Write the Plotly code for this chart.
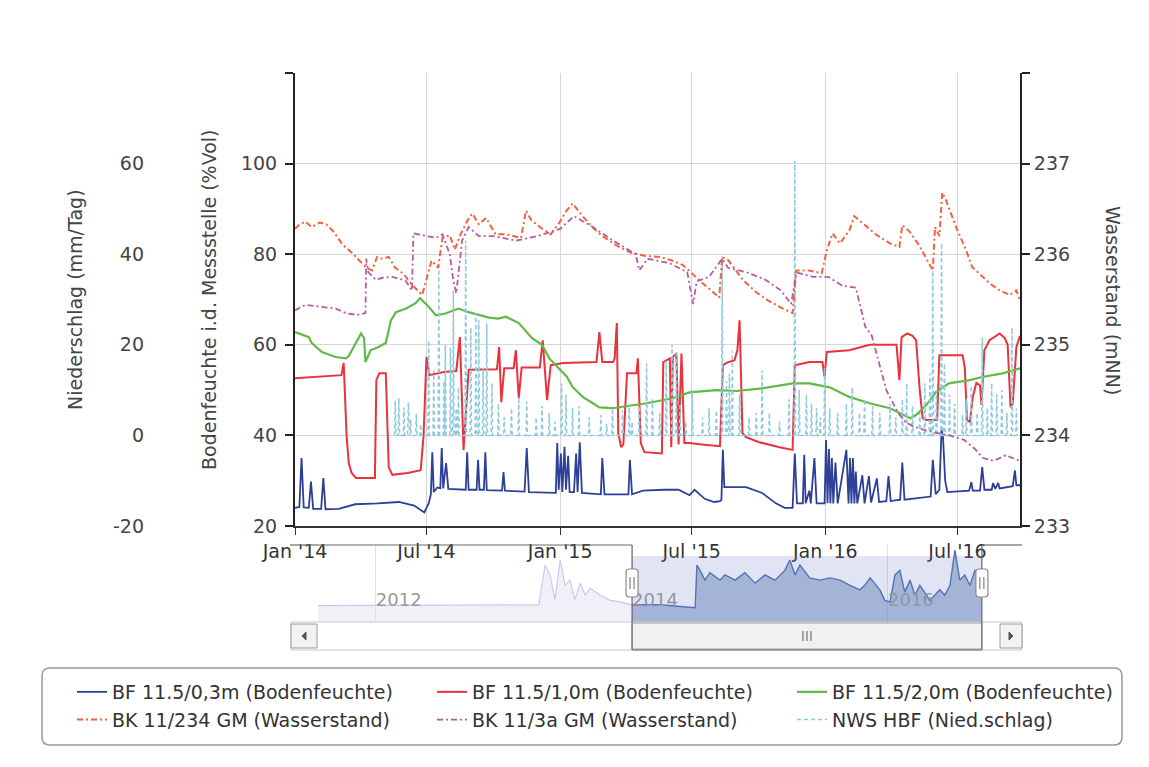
import pandas as pd
import plotly.graph_objects as go

# ---------------- data ----------------
bf03 = [  # BF 11.5/0,3m (Bodenfeuchte), %Vol
    ("2014-01-01", 24.0), ("2014-01-07", 24.2), ("2014-01-10", 35.0), ("2014-01-13", 24.1),
    ("2014-01-20", 24.0), ("2014-01-23", 29.8), ("2014-01-26", 23.8), ("2014-02-06", 23.8),
    ("2014-02-09", 30.6), ("2014-02-12", 23.7), ("2014-03-02", 23.8), ("2014-03-25", 24.8),
    ("2014-04-25", 25.0), ("2014-05-24", 25.3), ("2014-06-14", 24.5), ("2014-06-28", 23.0),
    ("2014-07-04", 25.0), ("2014-07-07", 27.0), ("2014-07-09", 36.3), ("2014-07-11", 27.5),
    ("2014-07-16", 28.5), ("2014-07-20", 28.3), ("2014-07-22", 37.2), ("2014-07-24", 28.3),
    ("2014-07-28", 33.9), ("2014-07-31", 28.2), ("2014-08-24", 28.0), ("2014-08-26", 36.3),
    ("2014-08-28", 28.0), ("2014-09-08", 28.0), ("2014-09-10", 34.6), ("2014-09-12", 28.0),
    ("2014-09-18", 28.0), ("2014-09-20", 36.3), ("2014-09-22", 27.9), ("2014-10-13", 27.8),
    ("2014-10-15", 31.9), ("2014-10-17", 27.8), ("2014-11-13", 27.6), ("2014-11-16", 37.2),
    ("2014-11-19", 27.5), ("2014-12-26", 27.3), ("2014-12-28", 38.3), ("2014-12-30", 28.0),
    ("2015-01-02", 36.0), ("2015-01-04", 27.5), ("2015-01-07", 37.5), ("2015-01-09", 28.0),
    ("2015-01-12", 35.5), ("2015-01-14", 27.5), ("2015-01-20", 27.5), ("2015-01-23", 36.0),
    ("2015-01-25", 27.5), ("2015-01-28", 38.5), ("2015-01-31", 27.3), ("2015-02-26", 27.0),
    ("2015-02-28", 35.0), ("2015-03-03", 27.0), ("2015-04-05", 27.0), ("2015-04-07", 34.6),
    ("2015-04-10", 27.0), ("2015-04-25", 27.8), ("2015-05-23", 28.0), ("2015-06-13", 28.0),
    ("2015-06-28", 26.8), ("2015-07-05", 28.0), ("2015-07-19", 26.0), ("2015-08-01", 25.3),
    ("2015-08-09", 25.5), ("2015-08-11", 25.8), ("2015-08-13", 36.8), ("2015-08-15", 28.6),
    ("2015-09-14", 28.6), ("2015-10-06", 27.3), ("2015-10-25", 25.0), ("2015-11-06", 24.0),
    ("2015-11-17", 24.0), ("2015-11-20", 36.0), ("2015-11-23", 25.0), ("2015-12-01", 25.0),
    ("2015-12-03", 35.7), ("2015-12-05", 25.0), ("2015-12-10", 27.8), ("2015-12-12", 25.0),
    ("2015-12-17", 35.0), ("2015-12-20", 25.0), ("2015-12-31", 25.0), ("2016-01-02", 39.0),
    ("2016-01-04", 25.0), ("2016-01-06", 37.0), ("2016-01-08", 25.0), ("2016-01-10", 35.0),
    ("2016-01-12", 25.0), ("2016-01-15", 34.0), ("2016-01-18", 25.0), ("2016-01-30", 36.8),
    ("2016-02-02", 25.0), ("2016-02-04", 35.0), ("2016-02-06", 25.0), ("2016-02-08", 35.0),
    ("2016-02-10", 25.0), ("2016-02-12", 32.0), ("2016-02-14", 25.0), ("2016-02-21", 31.2),
    ("2016-02-24", 25.0), ("2016-03-01", 31.0), ("2016-03-04", 25.2), ("2016-03-12", 30.5),
    ("2016-03-15", 25.3), ("2016-03-25", 25.5), ("2016-03-28", 31.0), ("2016-03-31", 25.5),
    ("2016-04-13", 25.8), ("2016-04-16", 34.0), ("2016-04-19", 25.8), ("2016-05-18", 26.4),
    ("2016-05-25", 26.5), ("2016-05-28", 34.6), ("2016-06-01", 27.0), ("2016-06-06", 28.0),
    ("2016-06-09", 41.2), ("2016-06-11", 39.6), ("2016-06-14", 30.0), ("2016-06-17", 27.5),
    ("2016-07-17", 27.8), ("2016-07-20", 29.7), ("2016-07-22", 27.8), ("2016-08-01", 27.8),
    ("2016-08-04", 33.0), ("2016-08-07", 28.0), ("2016-08-17", 28.0), ("2016-08-19", 29.5),
    ("2016-08-22", 28.2), ("2016-08-26", 29.5), ("2016-08-28", 28.3), ("2016-09-15", 28.8),
    ("2016-09-18", 32.3), ("2016-09-20", 29.0), ("2016-09-25", 29.0),
]

bf10 = [  # BF 11.5/1,0m (Bodenfeuchte), %Vol
    ("2014-01-01", 52.6), ("2014-01-20", 52.8), ("2014-02-10", 53.0), ("2014-03-06", 53.3),
    ("2014-03-09", 56.0), ("2014-03-13", 40.0), ("2014-03-16", 33.9), ("2014-03-20", 31.7),
    ("2014-03-26", 30.6), ("2014-04-21", 30.6), ("2014-04-23", 52.2), ("2014-04-27", 53.7),
    ("2014-05-06", 53.7), ("2014-05-10", 33.0), ("2014-05-15", 31.3), ("2014-06-05", 31.7),
    ("2014-06-23", 32.3), ("2014-06-27", 40.0), ("2014-07-01", 57.3), ("2014-07-05", 53.3),
    ("2014-07-25", 54.0), ("2014-08-11", 54.2), ("2014-08-16", 61.7), ("2014-08-21", 36.8),
    ("2014-08-28", 54.5), ("2014-10-06", 54.6), ("2014-10-09", 59.5), ("2014-10-12", 47.3),
    ("2014-10-16", 54.8), ("2014-10-29", 54.8), ("2014-11-01", 58.8), ("2014-11-05", 48.2),
    ("2014-11-09", 55.0), ("2014-12-04", 55.0), ("2014-12-08", 61.0), ("2014-12-14", 47.8),
    ("2014-12-19", 55.5), ("2015-01-05", 56.0), ("2015-02-20", 56.2), ("2015-02-24", 62.8),
    ("2015-02-28", 56.2), ("2015-03-15", 56.2), ("2015-03-17", 57.0), ("2015-03-20", 64.8),
    ("2015-03-22", 40.5), ("2015-03-26", 37.4), ("2015-03-29", 38.0), ("2015-04-03", 53.7),
    ("2015-04-16", 53.7), ("2015-04-18", 57.0), ("2015-04-22", 38.3), ("2015-04-27", 36.3),
    ("2015-05-21", 36.0), ("2015-05-23", 56.2), ("2015-06-01", 57.0), ("2015-06-03", 37.4),
    ("2015-06-05", 57.3), ("2015-06-10", 58.0), ("2015-06-13", 38.0), ("2015-06-17", 58.1),
    ("2015-06-21", 38.3), ("2015-06-28", 38.3), ("2015-07-15", 38.0), ("2015-08-09", 37.6),
    ("2015-08-13", 55.5), ("2015-08-18", 56.0), ("2015-08-29", 56.6), ("2015-09-02", 58.8),
    ("2015-09-05", 65.4), ("2015-09-09", 40.5), ("2015-09-14", 39.6), ("2015-10-02", 38.5),
    ("2015-10-30", 37.4), ("2015-11-17", 36.8), ("2015-11-20", 55.5), ("2015-12-10", 56.2),
    ("2015-12-28", 56.2), ("2015-12-31", 53.0), ("2016-01-03", 58.4), ("2016-02-03", 58.8),
    ("2016-03-02", 60.0), ("2016-04-08", 60.0), ("2016-04-12", 52.2), ("2016-04-15", 61.7),
    ("2016-04-23", 62.5), ("2016-04-30", 62.0), ("2016-05-05", 61.0), ("2016-05-10", 50.0),
    ("2016-05-14", 43.8), ("2016-05-19", 43.4), ("2016-06-03", 43.4), ("2016-06-06", 57.7),
    ("2016-07-08", 57.7), ("2016-07-11", 55.0), ("2016-07-14", 43.4), ("2016-07-18", 43.0),
    ("2016-07-22", 48.5), ("2016-07-27", 51.6), ("2016-08-01", 51.0), ("2016-08-03", 46.7),
    ("2016-08-07", 58.8), ("2016-08-14", 61.0), ("2016-08-28", 62.5), ("2016-09-04", 61.5),
    ("2016-09-08", 60.0), ("2016-09-12", 46.2), ("2016-09-15", 47.0), ("2016-09-20", 59.5),
    ("2016-09-25", 62.0),
]

bf20 = [  # BF 11.5/2,0m (Bodenfeuchte), %Vol
    ("2014-01-01", 62.8), ("2014-01-20", 61.7), ("2014-01-24", 60.4), ("2014-02-07", 58.4),
    ("2014-02-26", 57.3), ("2014-03-12", 57.0), ("2014-03-16", 57.5), ("2014-03-26", 60.6),
    ("2014-04-02", 62.5), ("2014-04-06", 61.5), ("2014-04-08", 56.2), ("2014-04-15", 58.8),
    ("2014-04-26", 59.5), ("2014-05-06", 60.4), ("2014-05-13", 65.4), ("2014-05-20", 67.2),
    ("2014-06-03", 68.0), ("2014-06-16", 69.2), ("2014-06-22", 70.3), ("2014-07-04", 68.4),
    ("2014-07-14", 66.5), ("2014-07-27", 66.9), ("2014-08-14", 68.0), ("2014-08-28", 67.2),
    ("2014-09-25", 66.0), ("2014-10-08", 65.8), ("2014-10-18", 66.2), ("2014-11-05", 64.8),
    ("2014-11-14", 63.2), ("2014-11-23", 61.5), ("2014-12-07", 60.0), ("2014-12-17", 57.0),
    ("2014-12-27", 55.3), ("2015-01-10", 53.0), ("2015-01-18", 50.7), ("2015-02-01", 48.5),
    ("2015-02-15", 47.1), ("2015-02-24", 46.2), ("2015-03-14", 46.0), ("2015-04-10", 46.7),
    ("2015-04-30", 47.1), ("2015-06-05", 48.2), ("2015-06-28", 49.5), ("2015-08-04", 50.0),
    ("2015-09-01", 49.8), ("2015-10-06", 50.4), ("2015-10-30", 51.0), ("2015-11-17", 51.5),
    ("2015-12-10", 51.5), ("2016-01-07", 50.6), ("2016-02-03", 48.5), ("2016-03-02", 47.1),
    ("2016-03-30", 46.0), ("2016-04-17", 44.5), ("2016-04-27", 43.8), ("2016-05-05", 44.5),
    ("2016-05-19", 46.7), ("2016-06-01", 49.5), ("2016-06-19", 51.5), ("2016-07-18", 52.2),
    ("2016-08-04", 52.9), ("2016-09-01", 53.7), ("2016-09-25", 54.8),
]

bk234 = [  # BK 11/234 GM (Wasserstand), mNN
    ("2014-01-01", 236.28), ("2014-01-06", 236.32), ("2014-01-15", 236.36), ("2014-01-24", 236.30),
    ("2014-02-04", 236.35), ("2014-02-13", 236.33), ("2014-02-23", 236.25), ("2014-03-08", 236.10),
    ("2014-03-20", 236.02), ("2014-03-30", 235.93), ("2014-04-09", 235.85), ("2014-04-17", 235.82),
    ("2014-04-24", 235.97), ("2014-05-01", 235.95), ("2014-05-10", 235.97), ("2014-05-19", 235.85),
    ("2014-05-31", 235.78), ("2014-06-09", 235.68), ("2014-06-21", 235.58), ("2014-06-25", 235.55),
    ("2014-07-02", 235.75), ("2014-07-08", 235.93), ("2014-07-17", 235.85), ("2014-07-23", 236.18),
    ("2014-08-02", 236.21), ("2014-08-09", 236.05), ("2014-08-17", 236.22), ("2014-08-27", 236.38),
    ("2014-09-02", 236.45), ("2014-09-11", 236.33), ("2014-09-21", 236.40), ("2014-10-04", 236.22),
    ("2014-10-18", 236.22), ("2014-11-08", 236.18), ("2014-11-12", 236.35), ("2014-11-15", 236.48),
    ("2014-11-22", 236.38), ("2014-12-04", 236.30), ("2014-12-19", 236.22), ("2014-12-31", 236.35),
    ("2015-01-08", 236.46), ("2015-01-18", 236.56), ("2015-02-01", 236.42), ("2015-02-14", 236.30),
    ("2015-02-28", 236.20), ("2015-03-19", 236.10), ("2015-04-07", 236.02), ("2015-04-29", 235.98),
    ("2015-05-19", 235.97), ("2015-06-04", 235.93), ("2015-06-19", 235.88), ("2015-07-06", 235.75),
    ("2015-07-16", 235.68), ("2015-07-28", 235.60), ("2015-08-08", 235.52), ("2015-08-12", 235.97),
    ("2015-08-21", 235.93), ("2015-09-10", 235.71), ("2015-09-28", 235.58), ("2015-10-14", 235.49),
    ("2015-11-01", 235.41), ("2015-11-17", 235.35), ("2015-11-22", 235.82), ("2015-12-10", 235.82),
    ("2015-12-27", 235.79), ("2016-01-03", 236.04), ("2016-01-11", 236.23), ("2016-01-21", 236.12),
    ("2016-02-03", 236.26), ("2016-02-10", 236.42), ("2016-02-27", 236.30), ("2016-03-12", 236.21),
    ("2016-03-30", 236.12), ("2016-04-12", 236.08), ("2016-04-16", 236.32), ("2016-04-26", 236.25),
    ("2016-05-09", 236.10), ("2016-05-23", 235.90), ("2016-05-28", 235.82), ("2016-05-31", 236.30),
    ("2016-06-06", 236.20), ("2016-06-10", 236.68), ("2016-06-15", 236.60), ("2016-06-29", 236.30),
    ("2016-07-13", 236.04), ("2016-07-21", 235.86), ("2016-08-04", 235.75), ("2016-08-14", 235.68),
    ("2016-08-28", 235.60), ("2016-09-11", 235.55), ("2016-09-20", 235.60), ("2016-09-25", 235.49),
]

bk3a = [  # BK 11/3a GM (Wasserstand), mNN
    ("2014-01-01", 235.38), ("2014-01-15", 235.44), ("2014-02-06", 235.42), ("2014-02-26", 235.40),
    ("2014-03-12", 235.35), ("2014-03-27", 235.33), ("2014-04-08", 235.35), ("2014-04-09", 235.95),
    ("2014-04-12", 235.80), ("2014-04-22", 235.72), ("2014-05-02", 235.74), ("2014-05-15", 235.75),
    ("2014-06-02", 235.71), ("2014-06-11", 235.60), ("2014-06-13", 236.23), ("2014-06-30", 236.20),
    ("2014-07-14", 236.18), ("2014-07-23", 236.22), ("2014-08-02", 236.00), ("2014-08-07", 235.70),
    ("2014-08-11", 235.57), ("2014-08-19", 236.15), ("2014-08-28", 236.30), ("2014-09-11", 236.20),
    ("2014-10-01", 236.20), ("2014-11-01", 236.15), ("2014-12-01", 236.20), ("2015-01-01", 236.28),
    ("2015-01-20", 236.42), ("2015-02-15", 236.30), ("2015-03-15", 236.15), ("2015-04-15", 236.00),
    ("2015-04-20", 235.82), ("2015-05-01", 235.95), ("2015-06-01", 235.90), ("2015-06-25", 235.80),
    ("2015-07-03", 235.45), ("2015-07-08", 235.70), ("2015-07-25", 235.75), ("2015-08-12", 235.95),
    ("2015-08-20", 235.85), ("2015-09-15", 235.80), ("2015-10-10", 235.72), ("2015-11-01", 235.60),
    ("2015-11-15", 235.45), ("2015-11-22", 235.80), ("2015-12-15", 235.75), ("2016-01-05", 235.75),
    ("2016-01-25", 235.65), ("2016-02-12", 235.63), ("2016-02-25", 235.20), ("2016-03-05", 235.10),
    ("2016-03-25", 234.50), ("2016-04-10", 234.25), ("2016-04-20", 234.15), ("2016-05-01", 234.10),
    ("2016-05-20", 234.05), ("2016-06-20", 234.00), ("2016-07-10", 233.95), ("2016-07-25", 233.85),
    ("2016-08-05", 233.75), ("2016-08-20", 233.72), ("2016-09-05", 233.78), ("2016-09-25", 233.72),
]

rain_events = [  # NWS HBF (Nied.schlag), mm/Tag on rain days
    ("2014-05-19", 7.7), ("2014-05-24", 8.2), ("2014-05-31", 6.2), ("2014-06-06", 7.3),
    ("2014-06-09", 3.5), ("2014-06-17", 4.8), ("2014-06-23", 2.5), ("2014-07-04", 21.0),
    ("2014-07-11", 14.3), ("2014-07-18", 37.5), ("2014-07-25", 12.0), ("2014-07-27", 20.0),
    ("2014-08-03", 19.4), ("2014-08-07", 32.0), ("2014-08-11", 6.0), ("2014-08-14", 10.6),
    ("2014-08-24", 43.0), ("2014-08-31", 23.8), ("2014-09-07", 27.0), ("2014-09-11", 25.4),
    ("2014-09-17", 15.0), ("2014-09-22", 24.7), ("2014-09-29", 11.5), ("2014-10-08", 7.0),
    ("2014-10-16", 4.0), ("2014-10-26", 6.0), ("2014-11-05", 8.5), ("2014-11-16", 7.5),
    ("2014-11-29", 4.0), ("2014-12-07", 6.5), ("2014-12-17", 5.0), ("2014-12-25", 3.0),
    ("2015-01-03", 11.5), ("2015-01-09", 9.0), ("2015-01-18", 6.0), ("2015-01-27", 6.5),
    ("2015-02-10", 4.0), ("2015-02-26", 4.5), ("2015-03-06", 2.5), ("2015-03-14", 6.0),
    ("2015-03-28", 5.5), ("2015-04-06", 7.0), ("2015-04-10", 3.0), ("2015-04-20", 6.5),
    ("2015-04-30", 15.9), ("2015-05-08", 8.0), ("2015-05-18", 5.0), ("2015-05-27", 16.5),
    ("2015-06-04", 20.0), ("2015-06-10", 18.7), ("2015-06-15", 7.0), ("2015-06-23", 3.0),
    ("2015-07-02", 10.0), ("2015-07-16", 4.0), ("2015-07-25", 6.0), ("2015-08-04", 5.5),
    ("2015-08-12", 39.5), ("2015-08-18", 12.0), ("2015-08-22", 13.7), ("2015-08-26", 18.7),
    ("2015-09-05", 9.0), ("2015-09-18", 4.0), ("2015-09-28", 5.0), ("2015-10-06", 14.3),
    ("2015-10-16", 5.0), ("2015-10-30", 3.0), ("2015-11-12", 8.0), ("2015-11-20", 60.6),
    ("2015-11-26", 10.0), ("2015-12-06", 9.0), ("2015-12-13", 7.0), ("2015-12-20", 6.0),
    ("2015-12-25", 4.0), ("2015-12-31", 15.0), ("2016-01-07", 6.0), ("2016-01-18", 5.0),
    ("2016-01-30", 7.0), ("2016-02-07", 10.6), ("2016-02-17", 5.0), ("2016-02-24", 8.0),
    ("2016-03-06", 6.5), ("2016-03-16", 5.0), ("2016-03-30", 7.0), ("2016-04-07", 4.0),
    ("2016-04-16", 8.0), ("2016-04-22", 11.5), ("2016-04-30", 6.5), ("2016-05-10", 5.0),
    ("2016-05-17", 11.5), ("2016-05-24", 13.7), ("2016-05-28", 36.4), ("2016-06-02", 10.0),
    ("2016-06-09", 42.5), ("2016-06-13", 15.9), ("2016-06-20", 9.0), ("2016-06-27", 7.0),
    ("2016-07-08", 4.5), ("2016-07-13", 8.0), ("2016-07-20", 11.0), ("2016-07-28", 5.0),
    ("2016-08-04", 21.6), ("2016-08-11", 6.0), ("2016-08-17", 11.5), ("2016-08-24", 9.0),
    ("2016-08-31", 10.0), ("2016-09-07", 5.0), ("2016-09-14", 23.8), ("2016-09-20", 6.0),
]

nav_series = [  # navigator overview (BF 11.5/0,3m, long period)
    ("2011-07-20", 24.2), ("2012-06-01", 24.3), ("2013-04-10", 24.3), ("2013-04-28", 29.6),
    ("2013-05-12", 28.3), ("2013-05-26", 25.0), ("2013-06-10", 30.3), ("2013-06-24", 26.9),
    ("2013-07-08", 27.6), ("2013-07-22", 25.0), ("2013-08-06", 27.2), ("2013-08-20", 25.6),
    ("2013-09-03", 26.5), ("2013-10-02", 25.6), ("2013-10-30", 24.9), ("2013-11-28", 24.7),
    ("2014-01-01", 24.3), ("2014-03-22", 24.3), ("2014-06-30", 23.9), ("2014-07-05", 29.6),
    ("2014-07-14", 28.9), ("2014-07-28", 27.6), ("2014-08-11", 28.6), ("2014-09-09", 27.6),
    ("2014-09-23", 28.3), ("2014-10-22", 27.6), ("2014-11-19", 28.6), ("2014-12-18", 27.2),
    ("2015-01-15", 28.3), ("2015-02-13", 27.6), ("2015-03-13", 28.9), ("2015-03-27", 30.3),
    ("2015-04-11", 28.3), ("2015-04-25", 29.6), ("2015-05-23", 27.9), ("2015-06-21", 27.6),
    ("2015-07-20", 27.9), ("2015-08-17", 27.6), ("2015-09-15", 26.9), ("2015-10-13", 26.3),
    ("2015-10-27", 26.9), ("2015-11-11", 27.9), ("2015-12-09", 26.3), ("2015-12-23", 24.9),
    ("2016-01-07", 24.7), ("2016-01-21", 28.3), ("2016-02-04", 28.9), ("2016-02-18", 26.0),
    ("2016-03-04", 27.6), ("2016-03-18", 25.6), ("2016-04-01", 26.9), ("2016-04-30", 24.9),
    ("2016-05-28", 26.3), ("2016-06-11", 25.6), ("2016-06-26", 26.9), ("2016-07-10", 31.6),
    ("2016-07-24", 27.6), ("2016-08-07", 28.3), ("2016-08-22", 26.9), ("2016-09-05", 28.9),
    ("2016-09-19", 28.3), ("2016-09-25", 28.3),
]

series_names = [
    "BF 11.5/0,3m (Bodenfeuchte)", "BF 11.5/1,0m (Bodenfeuchte)", "BF 11.5/2,0m (Bodenfeuchte)",
    "BK 11/234 GM (Wasserstand)", "BK 11/3a GM (Wasserstand)", "NWS HBF (Nied.schlag)",
]
main_range = ["2014-01-01", "2016-09-25"]
nav_range = ["2011-07-20", "2016-11-10"]
nav_ticks = ["2012-01-01", "2014-01-01", "2016-01-01"]
nav_ticktext = ["2012", "2014", "2016"]

# ---------------- geometry (screen pixel helpers; page body has an 8px margin) ----------------
OFF = 8
W, H = 1149 - OFF, 767 - OFF
ML, MR, MT, MB = 34, 27, 42, 20
PW = W - ML - MR
PH = H - MT - MB
FONT = "DejaVu Sans"


def px(x):
    return (x - OFF - ML) / PW


def py(y):
    return (H - MB - (y - OFF)) / PH


def xy(pairs):
    return [p[0] for p in pairs], [p[1] for p in pairs]


# rain days as spikes on a zero baseline
rain_x, rain_y = [], []
for d, v in rain_events:
    t = pd.Timestamp(d)
    rain_x += [t - pd.Timedelta(days=1), t, t + pd.Timedelta(days=1)]
    rain_y += [0, v, 0]

fig = go.Figure()
colors = ["#2d3f96", "#e8323c", "#63b946", "#f2623e", "#b65aa6", "#8ec9dd"]

x, y = xy(bf03)
fig.add_trace(go.Scatter(x=x, y=y, name=series_names[0], mode="lines",
                         line=dict(color=colors[0], width=1.8), yaxis="y"))
x, y = xy(bf10)
fig.add_trace(go.Scatter(x=x, y=y, name=series_names[1], mode="lines",
                         line=dict(color=colors[1], width=2), yaxis="y"))
x, y = xy(bf20)
fig.add_trace(go.Scatter(x=x, y=y, name=series_names[2], mode="lines",
                         line=dict(color=colors[2], width=2.2), yaxis="y"))
x, y = xy(bk234)
fig.add_trace(go.Scatter(x=x, y=y, name=series_names[3], mode="lines",
                         line=dict(color=colors[3], width=2, dash="6px,3px,2px,3px"), yaxis="y3"))
x, y = xy(bk3a)
fig.add_trace(go.Scatter(x=x, y=y, name=series_names[4], mode="lines",
                         line=dict(color=colors[4], width=1.8, dash="6px,3px,2px,3px"), yaxis="y3"))
fig.add_trace(go.Scatter(x=rain_x, y=rain_y, name=series_names[5], mode="lines",
                         line=dict(color=colors[5], width=1.5, dash="4px,3px"), yaxis="y2"))

# navigator: faint outside the selected period, strong inside it
sel0, sel1 = main_range
t0, t1 = pd.Timestamp(sel0), pd.Timestamp(sel1)
nav_out = [p for p in nav_series if pd.Timestamp(p[0]) <= t0]
nav_in = [p for p in nav_series if t0 <= pd.Timestamp(p[0]) <= t1]
x, y = xy(nav_out)
fig.add_trace(go.Scatter(x=x, y=y, mode="lines", showlegend=False, hoverinfo="skip",
                         line=dict(color="#cdc9e6", width=1.2), fill="tozeroy",
                         fillcolor="rgba(215,212,238,0.35)", xaxis="x2", yaxis="y4"))
x, y = xy(nav_in)
fig.add_trace(go.Scatter(x=x, y=y, mode="lines", showlegend=False, hoverinfo="skip",
                         line=dict(color="#4a6fb0", width=1.4), fill="tozeroy",
                         fillcolor="rgba(69,110,170,0.42)", xaxis="x2", yaxis="y4"))

tick_font = dict(family=FONT, size=19, color="#444")

fig.update_layout(
    width=W, height=H,
    margin=dict(l=ML, r=MR, t=MT, b=MB, autoexpand=False),
    paper_bgcolor="white", plot_bgcolor="white",
    font=dict(family=FONT, size=19, color="#333"),
    showlegend=True,
    legend=dict(orientation="h", x=px(72), xanchor="left", y=py(673), yanchor="top",
                entrywidth=315, entrywidthmode="pixels", bgcolor="rgba(0,0,0,0)",
                font=dict(family=FONT, size=19, color="#333"), traceorder="normal"),
    xaxis=dict(domain=[px(295), px(1020)], anchor="y", type="date", range=main_range,
               tick0="2014-01-01", dtick="M6", tickformat="%b '%y",
               ticks="outside", ticklen=7, tickcolor="#333", tickwidth=1.2,
               showline=True, linecolor="#333", linewidth=1.5,
               showgrid=True, gridcolor="#d6d6d6", gridwidth=1, zeroline=False,
               tickfont=dict(family=FONT, size=19, color="#333")),
    yaxis=dict(domain=[py(526), py(73)], anchor="x", range=[20, 120],
               tickvals=[20, 40, 60, 80, 100, 120], ticktext=["20", "40", "60", "80", "100", ""],
               ticks="outside", ticklen=8, tickcolor="#222", tickwidth=1.5, ticklabelstandoff=4,
               showline=True, linecolor="#222", linewidth=2,
               showgrid=True, gridcolor="#d6d6d6", gridwidth=1, zeroline=False,
               tickfont=tick_font),
    yaxis2=dict(overlaying="y", anchor="free", position=px(144), side="left", range=[-20, 80],
                tickvals=[-20, 0, 20, 40, 60, 80], ticktext=["-20", "0", "20", "40", "60", ""],
                ticks="", showline=False, showgrid=False, zeroline=False, tickfont=tick_font),
    yaxis3=dict(overlaying="y", anchor="x", side="right", range=[233, 238],
                tickvals=[233, 234, 235, 236, 237, 238],
                ticktext=["233", "234", "235", "236", "237", ""],
                ticks="outside", ticklen=8, tickcolor="#222", tickwidth=1.5,
                showline=True, linecolor="#222", linewidth=2,
                showgrid=False, zeroline=False, tickfont=tick_font),
    xaxis2=dict(domain=[px(318), px(998)], anchor="y4", type="date", range=nav_range,
                tickvals=nav_ticks, ticktext=nav_ticktext, ticklabelposition="inside right",
                ticklabelstandoff=6,
                ticks="", showline=False, showgrid=True, gridcolor="#e2e2e2", zeroline=False,
                tickfont=dict(family=FONT, size=18, color="#9a9a9a")),
    yaxis4=dict(domain=[py(622), py(545)], anchor="x2", range=[22, 32.3], visible=False),
)

# ---------------- navigator / scrollbar decorations ----------------
mid = t0 + (t1 - t0) / 2
shapes = []
nav_top, nav_bot = py(545), py(622)
mask_top = py(556)

# tinted selection
shapes.append(dict(type="rect", xref="x2", yref="paper", x0=sel0, x1=sel1,
                   y0=nav_bot, y1=mask_top, fillcolor="rgba(120,130,200,0.22)", line_width=0,
                   layer="above"))

# scrollbar track, thumb, buttons
shapes.append(dict(type="rect", xref="paper", yref="paper", x0=px(291), x1=px(1022),
                   y0=py(650), y1=py(622), fillcolor="white", line=dict(color="#c8c8c8", width=1),
                   layer="above"))
shapes.append(dict(type="rect", xref="x2", yref="paper", x0=sel0, x1=sel1,
                   y0=py(649), y1=py(623), fillcolor="#f1f1f1", line=dict(color="#a0a0a0", width=1),
                   layer="above"))
for dx in (-4, 0, 4):
    shapes.append(dict(type="line", xref="x2", xsizemode="pixel", xanchor=mid, x0=dx, x1=dx,
                       yref="paper", y0=py(641), y1=py(631), line=dict(color="#555", width=1),
                       layer="above"))
for (bx0, bx1) in ((291, 317), (1000, 1022)):
    shapes.append(dict(type="rect", xref="paper", yref="paper", x0=px(bx0), x1=px(bx1),
                       y0=py(648), y1=py(624), fillcolor="#f2f2f2",
                       line=dict(color="#9a9a9a", width=1), layer="above"))


def ppath(points):
    return "M " + " L ".join(f"{px(a):.5f},{py(b):.5f}" for a, b in points) + " Z"


shapes.append(dict(type="path", xref="paper", yref="paper",
                   path=ppath([(306, 632), (302, 636), (306, 640)]),
                   fillcolor="#555", line=dict(color="#555", width=1), layer="above"))
shapes.append(dict(type="path", xref="paper", yref="paper",
                   path=ppath([(1009, 632), (1013, 636), (1009, 640)]),
                   fillcolor="#555", line=dict(color="#555", width=1), layer="above"))

# outline around the selection
oc = dict(color="#6a6a6a", width=1.2)
shapes.append(dict(type="line", xref="paper", yref="paper", x0=px(290), x1=px(318),
                   y0=nav_top, y1=nav_top, line=oc, layer="above"))
shapes.append(dict(type="line", xref="x2", yref="paper", x0=nav_range[0], x1=sel0,
                   y0=nav_top, y1=nav_top, line=oc, layer="above"))
shapes.append(dict(type="line", xref="x2", yref="paper", x0=sel0, x1=sel0,
                   y0=nav_top, y1=py(650), line=oc, layer="above"))
shapes.append(dict(type="line", xref="x2", yref="paper", x0=sel0, x1=sel1,
                   y0=py(650), y1=py(650), line=oc, layer="above"))
shapes.append(dict(type="line", xref="x2", yref="paper", x0=sel1, x1=sel1,
                   y0=py(650), y1=nav_top, line=oc, layer="above"))
shapes.append(dict(type="line", xref="x2", yref="paper", x0=sel1, x1=nav_range[1],
                   y0=nav_top, y1=nav_top, line=oc, layer="above"))
shapes.append(dict(type="line", xref="paper", yref="paper", x0=px(998), x1=px(1022),
                   y0=nav_top, y1=nav_top, line=oc, layer="above"))

# handles
handle = ("M -6,-11 Q -6,-14 -3,-14 L 3,-14 Q 6,-14 6,-11 L 6,11 Q 6,14 3,14 "
          "L -3,14 Q -6,14 -6,11 Z")
for s in (sel0, sel1):
    shapes.append(dict(type="path", xref="x2", xsizemode="pixel", xanchor=s,
                       yref="paper", ysizemode="pixel", yanchor=py(583), path=handle,
                       fillcolor="white", line=dict(color="#8a8a8a", width=1.2), layer="above"))
    for dx in (-2, 2):
        shapes.append(dict(type="line", xref="x2", xsizemode="pixel", xanchor=s, x0=dx, x1=dx,
                           yref="paper", ysizemode="pixel", yanchor=py(583), y0=-6, y1=6,
                           line=dict(color="#666", width=1), layer="above"))

# rounded legend frame
lx0, lx1, ly0, ly1 = px(42), px(1122), py(745), py(668)
rx, ry = 8 / PW, 8 / PH
frame = (f"M {lx0+rx},{ly1} L {lx1-rx},{ly1} Q {lx1},{ly1} {lx1},{ly1-ry} "
         f"L {lx1},{ly0+ry} Q {lx1},{ly0} {lx1-rx},{ly0} L {lx0+rx},{ly0} "
         f"Q {lx0},{ly0} {lx0},{ly0+ry} L {lx0},{ly1-ry} Q {lx0},{ly1} {lx0+rx},{ly1} Z")
shapes.append(dict(type="path", xref="paper", yref="paper", path=frame,
                   fillcolor="white", line=dict(color="#9a9a9a", width=1.5), layer="below"))

fig.update_layout(shapes=shapes)

# axis titles
title_font = dict(family=FONT, size=19, color="#444")
fig.add_annotation(text="Niederschlag (mm/Tag)", xref="paper", yref="paper", x=px(75), y=py(300),
                   textangle=-90, showarrow=False, font=title_font, xanchor="center", yanchor="middle")
fig.add_annotation(text="Bodenfeuchte i.d. Messstelle (%Vol)", xref="paper", yref="paper",
                   x=px(209), y=py(300), textangle=-90, showarrow=False, font=title_font,
                   xanchor="center", yanchor="middle")
fig.add_annotation(text="Wasserstand (mNN)", xref="paper", yref="paper", x=px(1113), y=py(300),
                   textangle=90, showarrow=False, font=title_font, xanchor="center", yanchor="middle")

fig.write_html("out.html")
